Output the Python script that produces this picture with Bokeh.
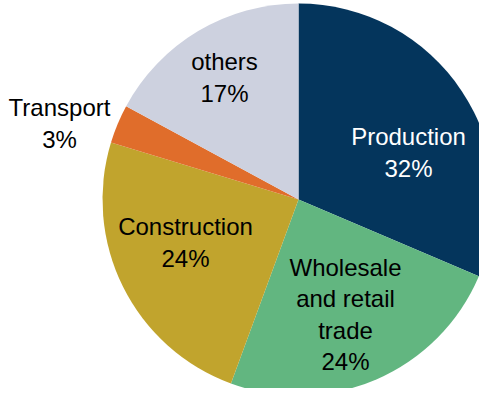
import math
from bokeh.plotting import figure
from bokeh.models import Range1d, ColumnDataSource
from bokeh.core.properties import value
from bokeh.embed import file_html
from bokeh.resources import INLINE

# ---- data ----
sectors = ["Production", "Wholesale\nand retail\ntrade", "Construction", "Transport", "others"]
shares = [31.4, 24.2, 24.1, 3.2, 17.1]
pct_labels = ["32%", "24%", "24%", "3%", "17%"]
colors = ["#04355C", "#62B680", "#C1A42D", "#E06D2B", "#CDD1DF"]
label_colors = ["white", "black", "black", "black", "black"]

# ---- layout constants ----
W, H = 479, 388
CX, CY = 298, 199          # pie centre in figure pixels (from top-left)
R = 196
label_pos = [(110, 47), (47, -115), (-113, -43), (-239, 76), (-74, 122)]

total = sum(shares)
starts, ends = [], []
cum = 0.0
for s in shares:
    starts.append(math.pi / 2 - cum / total * 2 * math.pi)
    cum += s
    ends.append(math.pi / 2 - cum / total * 2 * math.pi)

src = ColumnDataSource(dict(start=starts, end=ends, color=colors))

p = figure(width=W, height=H, output_backend="svg", toolbar_location=None,
           x_range=Range1d(-CX, W - CX), y_range=Range1d(-(H - CY), CY),
           min_border=0, outline_line_color=None)
p.axis.visible = False
p.grid.visible = False
p.background_fill_color = "white"
p.border_fill_color = "white"

p.wedge(x=0, y=0, radius=R, start_angle="start", end_angle="end",
        direction="clock", fill_color="color", line_color=None, source=src)

texts = [f"{s}\n{pct}" for s, pct in zip(sectors, pct_labels)]
lsrc = ColumnDataSource(dict(x=[q[0] for q in label_pos], y=[q[1] for q in label_pos],
                             text=texts, c=label_colors))
p.text(x="x", y="y", text="text", text_color="c", source=lsrc,
       text_align="center", text_baseline="middle",
       text_font=value("Liberation Sans"), text_font_size="24px",
       text_line_height=1.17)

open("out.html", "w").write(file_html(p, INLINE))
